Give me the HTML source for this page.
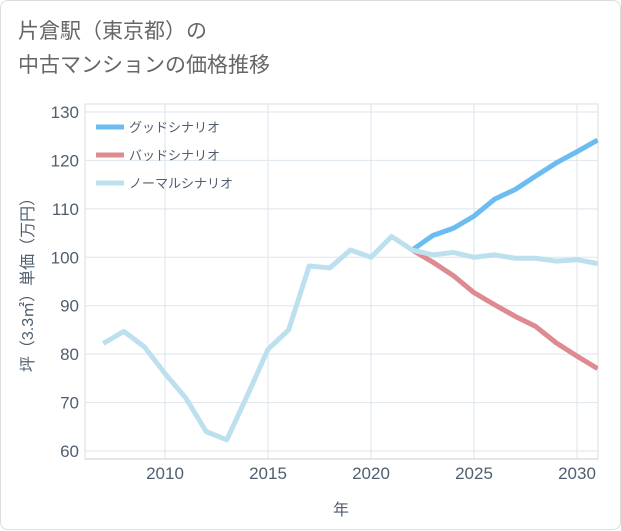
<!DOCTYPE html>
<html><head><meta charset="utf-8"><style>
body{margin:0;background:#fff;font-family:"Liberation Sans","Noto Sans CJK JP",sans-serif;}
#card{position:absolute;left:0;top:0;width:619px;height:528px;border:1px solid #ddd;border-radius:8px;background:#fff;}
#title{position:absolute;left:17px;top:14px;font-size:21px;line-height:34px;color:#666;}
</style></head><body>
<div id="card">
<div id="title">片倉駅（東京都）の<br>中古マンションの価格推移</div>
<svg id="chart" width="621" height="530" style="position:absolute;left:0;top:0"></svg>
</div>
<script>
const years=[2007,2008,2009,2010,2011,2012,2013,2014,2015,2016,2017,2018,2019,2020,2021,2022,2023,2024,2025,2026,2027,2028,2029,2030,2031];
const normalVals=[82.2,84.7,81.5,76,71,64,62.3,71.5,81,85,98.2,97.8,101.5,100,104.3,101.5,100.5,101,100,100.5,99.8,99.8,99.2,99.5,98.7];
const goodYears=[2022,2023,2024,2025,2026,2027,2028,2029,2030,2031];
const goodVals=[101.5,104.5,106,108.5,112,114,116.8,119.5,121.8,124.2];
const badVals=[101.5,99,96.2,92.7,90.2,87.8,85.7,82.3,79.6,77];
const yTicks=[60,70,80,90,100,110,120,130];
const xTicks=[2010,2015,2020,2025,2030];
const L=84,R=597,T=103,B=458;
const x=v=>164+(v-2010)*20.6;
const y=v=>450-(v-60)*4.843;
const svg=document.getElementById('chart');
const NS='http://www.w3.org/2000/svg';
function mk(t,a,p){const e=document.createElementNS(NS,t);for(const k in a)e.setAttribute(k,a[k]);(p||svg).appendChild(e);return e;}
let e=mk('rect',{x:L,y:T,width:R-L,height:B-T,fill:'none',stroke:'#ddd'});

yTicks.forEach(v=>{let g=mk('line',{x1:L,x2:R,y1:y(v),y2:y(v),stroke:'#dde5ec'});

let t=mk('text',{x:L-6,y:y(v)+6,'text-anchor':'end','font-size':17,fill:'#4f5f70'});t.textContent=v;
});
xTicks.forEach(v=>{let g=mk('line',{x1:x(v),x2:x(v),y1:T,y2:B,stroke:'#dde5ec'});

let t=mk('text',{x:x(v),y:478,'text-anchor':'middle','font-size':17,fill:'#4f5f70'});t.textContent=v;
});
e=mk('line',{x1:L,x2:R,y1:B,y2:B,stroke:'#ccc'});
e=mk('text',{x:340,y:514,'text-anchor':'middle','font-size':16,fill:'#4f5f70'});e.textContent='年';

e=mk('text',{x:0,y:0,'text-anchor':'middle','font-size':16,fill:'#4f5f70',transform:'translate(32,280) rotate(-90)'});e.textContent='坪（3.3㎡）単価（万円）';

const defs=mk('defs',{});const cp=mk('clipPath',{id:'cp'},defs);mk('rect',{x:L,y:T,width:R-L,height:B-T},cp);
function line(xs,vs,c,n){let d=xs.map((a,i)=>(i?'L':'M')+x(a)+','+y(vs[i])).join('');
let p=mk('path',{d:d,fill:'none',stroke:c,'stroke-width':5,'stroke-linejoin':'round','clip-path':'url(#cp)'});
}
line(goodYears,goodVals,'#6bbcf0','good-scenario-line');
line(goodYears,badVals,'#de8a91','bad-scenario-line');
line(years,normalVals,'#bde0ee','normal-scenario-line');
[['グッドシナリオ','#6bbcf0'],['バッドシナリオ','#de8a91'],['ノーマルシナリオ','#bde0ee']].forEach((l,i)=>{
let yy=126+i*28;let s=mk('line',{x1:95,x2:123,y1:yy,y2:yy,stroke:l[1],'stroke-width':5});

let t=mk('text',{x:128,y:yy+5,'font-size':13,fill:'#4f5f70'});t.textContent=l[0];
});
</script>
</body></html>
